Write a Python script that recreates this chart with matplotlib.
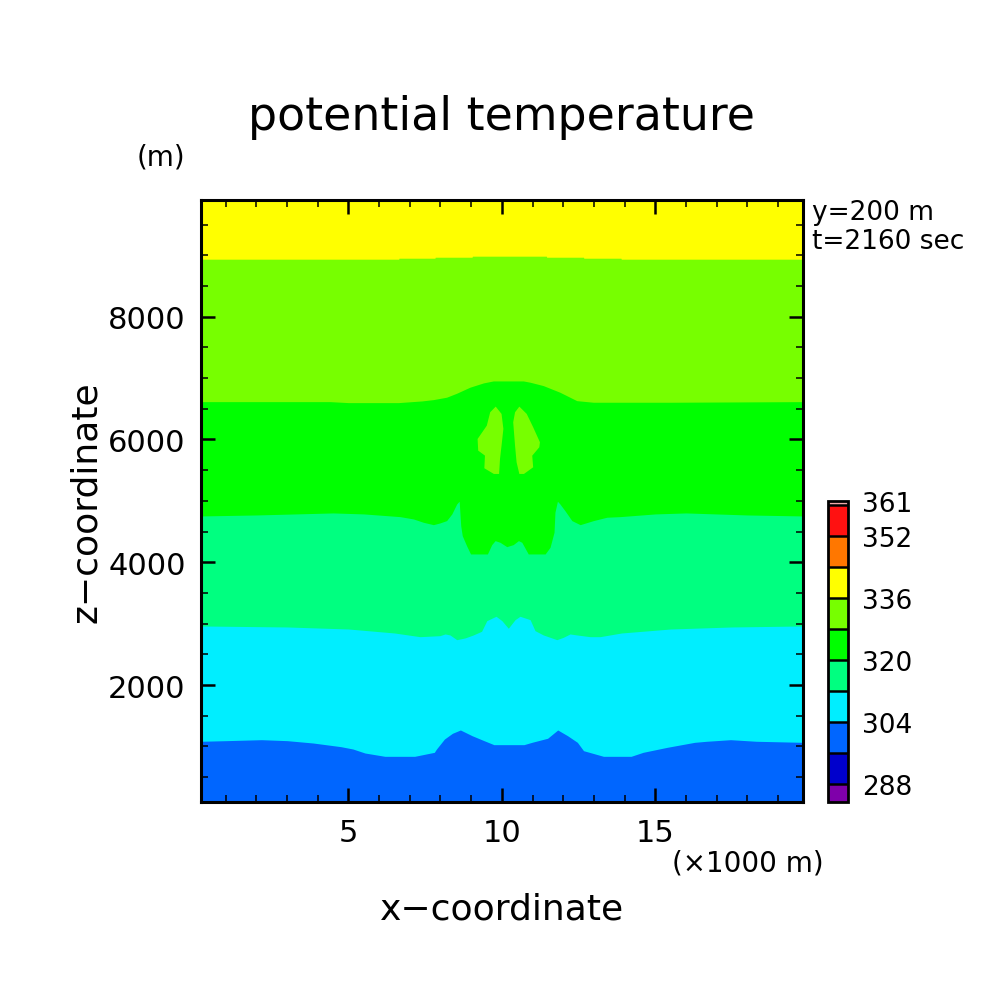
import numpy as np
import matplotlib
matplotlib.use("Agg")
import matplotlib.pyplot as plt
from matplotlib.colors import ListedColormap, BoundaryNorm
from matplotlib.cm import ScalarMappable
from matplotlib.ticker import MultipleLocator

# ---------------- data ----------------
x_range = (0.2, 19.8)          # x 1000 m
z_range = (100.0, 9900.0)      # m

# colour levels of potential temperature (K)
levels = [283.5, 288, 296, 304, 312, 320, 328, 336, 344, 352, 360, 361]
level_colors = ["#7f00aa", "#0000cc", "#0066ff", "#00eeff", "#00ff80",
                "#00ff00", "#77ff00", "#ffff00", "#ff7700", "#ff1111", "#f0a8a8"]
cbar_ticks = [288, 304, 320, 336, 352, 361]

# isoline 304 K (blue / cyan)
b304_x = [0.20, 1.01, 2.17, 3.01, 3.85, 4.76, 5.15, 5.54, 6.19, 7.16, 7.80, 7.87,
          8.13, 8.39, 8.65, 9.03, 9.42, 9.74, 10.72, 10.98, 11.49, 11.82, 12.14,
          12.46, 12.66, 13.31, 14.21, 14.60, 15.38, 16.28, 16.67, 17.45, 18.29, 19.80]
b304_z = [1084, 1094, 1110, 1094, 1056, 996, 958, 893, 839, 839, 904, 958,
          1121, 1214, 1268, 1175, 1094, 1029, 1029, 1067, 1133, 1268, 1175,
          1067, 931, 839, 839, 904, 985, 1067, 1084, 1110, 1084, 1067]

# isoline 312 K (cyan / spring green)
b312_x = [0.20, 3.00, 5.00, 6.50, 7.33, 7.98, 8.15, 8.31, 8.53, 8.80, 9.07, 9.34,
          9.51, 9.81, 10.00, 10.21, 10.43, 10.59, 10.92, 11.08, 11.35, 11.79,
          12.00, 12.22, 12.44, 12.87, 13.20, 13.90, 15.50, 17.50, 19.80]
b312_z = [2962, 2946, 2913, 2848, 2788, 2804, 2832, 2816, 2739, 2767, 2816, 2876,
          3049, 3120, 3049, 2925, 3065, 3120, 3065, 2886, 2816, 2739,
          2777, 2832, 2816, 2788, 2788, 2848, 2913, 2946, 2962]

# isoline 320 K (spring green / green)
b320_x = [0.20, 2.00, 4.50, 5.50, 6.68, 7.12, 7.44, 7.77, 7.98, 8.20, 8.37, 8.53,
          8.61, 8.66, 8.71, 8.85, 8.98, 9.53, 9.67, 9.78, 9.94, 10.16, 10.37,
          10.54, 10.65, 10.86, 11.41, 11.57, 11.70, 11.73, 11.81, 11.89, 12.06,
          12.28, 12.55, 12.98, 13.42, 13.85, 15.00, 16.00, 18.00, 19.80]
b320_z = [4754, 4770, 4803, 4787, 4743, 4705, 4651, 4612, 4640, 4678, 4787, 4950,
          4994, 4596, 4433, 4270, 4135, 4135, 4287, 4352, 4325, 4254, 4287,
          4352, 4325, 4135, 4135, 4244, 4489, 4815, 4994, 4950, 4836,
          4678, 4612, 4678, 4733, 4743, 4787, 4803, 4770, 4754]

# isoline 328 K (green / yellow green)
b328_x = [0.20, 4.40, 5.00, 6.63, 7.39, 7.77, 8.20, 8.53, 8.96, 9.40, 9.72, 10.70,
          10.92, 11.35, 11.89, 12.44, 12.98, 13.85, 15.48, 19.80]
b328_z = [6616, 6616, 6600, 6600, 6627, 6649, 6688, 6753, 6851, 6921, 6953, 6953,
          6932, 6877, 6769, 6632, 6606, 6606, 6606, 6616]

# isoline 336 K (yellow green / yellow)
b336_x = [0.20, 6.64, 6.65, 7.82, 7.83, 9.03, 9.04, 11.45, 11.46, 12.66, 12.67,
          13.88, 13.89, 19.80]
b336_z = [8936, 8936, 8952, 8952, 8968, 8968, 8985, 8985, 8968, 8968, 8952,
          8952, 8936, 8936]

# two warm (328-336 K) cells inside the 320-328 K layer
cell_left_x = [9.80, 9.99, 10.05, 9.99, 9.94, 9.91, 9.74, 9.43, 9.45, 9.23, 9.21,
               9.51, 9.62]
cell_left_z = [6535, 6416, 6172, 5900, 5683, 5438, 5438, 5531, 5737, 5818, 6008,
               6225, 6443]
cell_right_x = [10.57, 10.81, 11.02, 11.24, 11.22, 10.99, 11.02, 10.72, 10.57,
                10.48, 10.43, 10.37, 10.43]
cell_right_z = [6535, 6416, 6199, 5955, 5873, 5736, 5547, 5438, 5438, 5629,
                5899, 6280, 6443]

# ---------------- figure ----------------
plt.rcParams["font.family"] = ["DejaVu Sans"]
fig = plt.figure(figsize=(10.04, 10.04), dpi=100)
ax = fig.add_axes([0.2002, 0.2005, 0.5993, 0.5993])

col = dict(zip(levels[:-1], level_colors))
ax.set_facecolor(col[336])
zb = z_range[0]
ax.fill_between(b336_x, zb, b336_z, color=col[328], lw=0)
ax.fill_between(b328_x, zb, b328_z, color=col[320], lw=0)
ax.fill_between(b320_x, zb, b320_z, color=col[312], lw=0)
ax.fill_between(b312_x, zb, b312_z, color=col[304], lw=0)
ax.fill_between(b304_x, zb, b304_z, color=col[296], lw=0)
ax.fill(cell_left_x, cell_left_z, color=col[328], lw=0)
ax.fill(cell_right_x, cell_right_z, color=col[328], lw=0)

ax.set_xlim(*x_range)
ax.set_ylim(*z_range)
ax.xaxis.set_major_locator(MultipleLocator(5))
ax.xaxis.set_minor_locator(MultipleLocator(1))
ax.yaxis.set_major_locator(MultipleLocator(2000))
ax.yaxis.set_minor_locator(MultipleLocator(500))
ax.tick_params(which="both", direction="in", top=True, right=True, color="black")
ax.tick_params(which="major", length=10, width=1.8, labelsize=22)
ax.tick_params(which="minor", length=5, width=1.1)
ax.tick_params(axis="x", which="major", pad=12)
ax.tick_params(axis="y", which="major", pad=11)
for s in ax.spines.values():
    s.set_linewidth(2.2)

ax.set_xlabel("x\u2212coordinate", fontsize=26, labelpad=32)
ax.set_ylabel("z\u2212coordinate", fontsize=26, labelpad=4)

fig.text(0.5, 0.883, "potential temperature", fontsize=33, ha="center", va="center")
fig.text(0.160, 0.843, "(m)", fontsize=20, ha="center", va="center")
fig.text(0.745, 0.140, "(\u00d71000 m)", fontsize=20, ha="center", va="center")
fig.text(0.809, 0.788, "y=200 m", fontsize=19, ha="left", va="center")
fig.text(0.809, 0.759, "t=2160 sec", fontsize=19, ha="left", va="center")

# colour bar
cax = fig.add_axes([0.8244, 0.2005, 0.0205, 0.2998])
cmap = ListedColormap(level_colors)
norm = BoundaryNorm(levels, cmap.N)
sm = ScalarMappable(norm=norm, cmap=cmap)
cb = fig.colorbar(sm, cax=cax, spacing="proportional", drawedges=True,
                  ticks=cbar_ticks)
cb.outline.set_linewidth(2.0)
cb.dividers.set_linewidth(1.8)
cb.dividers.set_color("black")
cax.tick_params(length=0, labelsize=19, pad=10)
cax.minorticks_off()

fig.savefig("out.png", dpi=100)
